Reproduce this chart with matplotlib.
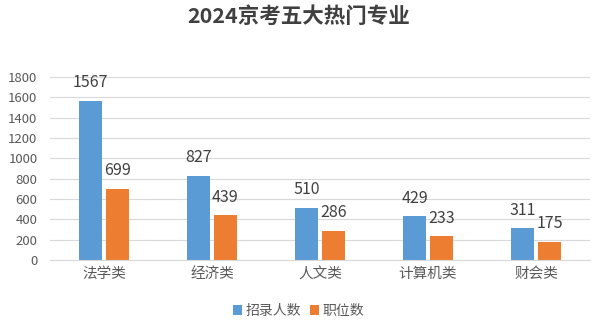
import matplotlib.pyplot as plt
import numpy as np

plt.rcParams['font.family'] = ['Noto Sans CJK SC', 'DejaVu Sans']

categories = ["法学类", "经济类", "人文类", "计算机类", "财会类"]
recruits = [1567, 827, 510, 429, 311]
positions = [699, 439, 286, 233, 175]
yticks = [0, 200, 400, 600, 800, 1000, 1200, 1400, 1600, 1800]

blue = "#5B9BD5"
orange = "#ED7D31"
text_grey = "#595959"

fig = plt.figure(figsize=(5.97, 3.25), dpi=100)
ax = fig.add_axes([50 / 597, 1 - 260 / 325, 540 / 597, 183 / 325])

x = np.arange(len(categories))
w = 0.21
gap = 0.02
b1 = ax.bar(x - w / 2 - gap, recruits, w, color=blue, label="招录人数")
b2 = ax.bar(x + w / 2 + gap, positions, w, color=orange, label="职位数")

for bars in (b1, b2):
    for rect in bars:
        h = rect.get_height()
        ax.annotate(f"{h:.0f}", (rect.get_x() + rect.get_width() / 2, h),
                    xytext=(0, 7), textcoords="offset points",
                    ha="center", va="bottom", fontsize=11.5, color="#404040")

ax.set_xlim(-0.5, len(categories) - 0.5)
ax.set_ylim(0, 1800)
ax.set_yticks(yticks)
ax.set_xticks(x)
ax.set_xticklabels(categories, fontsize=10.5)
ax.tick_params(axis="both", length=0, labelsize=9.5, colors=text_grey)
ax.tick_params(axis="x", labelsize=10.5, pad=5)
ax.tick_params(axis="y", pad=9)
ax.grid(axis="y", color="#D9D9D9", linewidth=0.8)
ax.set_axisbelow(True)
for side in ("top", "right", "left"):
    ax.spines[side].set_visible(False)
ax.spines["bottom"].set_color("#D9D9D9")

fig.text(0.5, 1 - 16 / 325, "2024京考五大热门专业", ha="center", va="center",
         fontsize=15.5, fontweight="bold", color="#404040")

fig.legend(loc="center", bbox_to_anchor=(0.5, 1 - 311 / 325), ncol=2,
           frameon=False, fontsize=10, handlelength=0.65, handleheight=0.65,
           handletextpad=0.3, columnspacing=0.6, labelcolor=text_grey)

fig.savefig("out.png", dpi=100, facecolor="white")
